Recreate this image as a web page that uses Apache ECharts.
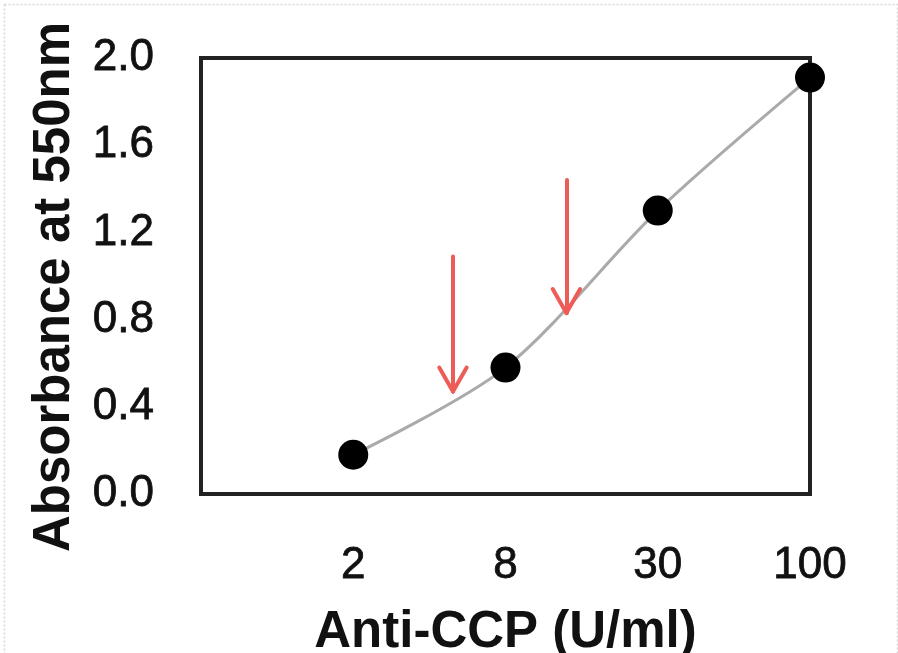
<!DOCTYPE html>
<html>
<head>
<meta charset="utf-8">
<script src="https://cdn.jsdelivr.net/npm/echarts@6/dist/echarts.min.js"></script>
<style>html,body{margin:0;padding:0;background:#fff}#c{width:898px;height:653px}</style>
</head>
<body>
<div id="c"></div>
<script>
// Data
const xLabels = ['2', '8', '30', '100'];           // Anti-CCP (U/ml), equally spaced positions 1..4
const xPositions = [1, 2, 3, 4];
const absorbance = [0.18, 0.58, 1.30, 1.91];        // Absorbance at 550nm
const yTicks = [0.0, 0.4, 0.8, 1.2, 1.6, 2.0];
// Red arrow annotations: [x position, top value, tip value]
const arrows = [[1.655, 1.09, 0.47], [2.40, 1.44, 0.83]];

const arrowColor = '#ee5c57';
const headDx = 0.09, headDy = 0.11;
const arrowSegments = [];
arrows.forEach(([x, top, tip]) => {
  arrowSegments.push([{coord: [x, top]}, {coord: [x, tip]}]);
  arrowSegments.push([{coord: [x - headDx, tip + headDy]}, {coord: [x, tip]}]);
  arrowSegments.push([{coord: [x + headDx, tip + headDy]}, {coord: [x, tip]}]);
});

const FONT = '"Liberation Sans", Arial, sans-serif';
const chart = echarts.init(document.getElementById('c'), null, {renderer: 'canvas'});
chart.setOption({
  animation: false,
  backgroundColor: '#fff',
  textStyle: {fontFamily: FONT},
  graphic: [{
    type: 'rect', left: 2, top: 2, shape: {width: 893, height: 660},
    style: {fill: 'none', stroke: '#d8d8d8', lineWidth: 1.5, lineDash: [2, 2]}, silent: true
  }],
  grid: {
    left: 201, right: 88, top: 58, bottom: 159,
    outerBoundsMode: 'none', containLabel: false,
    show: true, borderColor: '#222', borderWidth: 4, backgroundColor: 'transparent'
  },
  xAxis: {
    type: 'value', min: 0, max: 4, interval: 1,
    axisLine: {show: false}, axisTick: {show: false}, splitLine: {show: false},
    axisLabel: {
      margin: 50, fontSize: 44, color: '#111', fontFamily: FONT,
      textBorderColor: '#111', textBorderWidth: 0.8,
      formatter: v => { const i = xPositions.indexOf(v); return i >= 0 ? xLabels[i] : ''; }
    },
    name: 'Anti-CCP (U/ml)', nameLocation: 'middle', nameGap: 113,
    nameTextStyle: {fontSize: 51, fontWeight: 'bold', color: '#111', fontFamily: FONT}
  },
  yAxis: {
    type: 'value', min: yTicks[0], max: yTicks[yTicks.length - 1], interval: 0.4,
    axisLine: {show: false}, axisTick: {show: false}, splitLine: {show: false},
    axisLabel: {
      margin: 47, fontSize: 44, color: '#111', fontFamily: FONT,
      textBorderColor: '#111', textBorderWidth: 0.8,
      formatter: v => v.toFixed(1)
    },
    name: 'Absorbance at 550nm', nameLocation: 'middle', nameGap: 121,
    nameTextStyle: {fontSize: 51, fontWeight: 'bold', color: '#111', fontFamily: FONT, padding: [0, 22, 0, 0]}
  },
  series: [{
    type: 'line',
    data: xPositions.map((x, i) => [x, absorbance[i]]),
    smooth: 0.3,
    clip: false,
    symbol: 'circle', symbolSize: 30,
    itemStyle: {color: '#000'},
    lineStyle: {color: '#aaaaaa', width: 3},
    z: 3,
    markLine: {
      silent: true, symbol: ['none', 'none'], label: {show: false},
      lineStyle: {color: arrowColor, width: 4, type: 'solid', cap: 'round'},
      emphasis: {disabled: true},
      data: arrowSegments
    }
  }]
});
</script>
</body>
</html>
